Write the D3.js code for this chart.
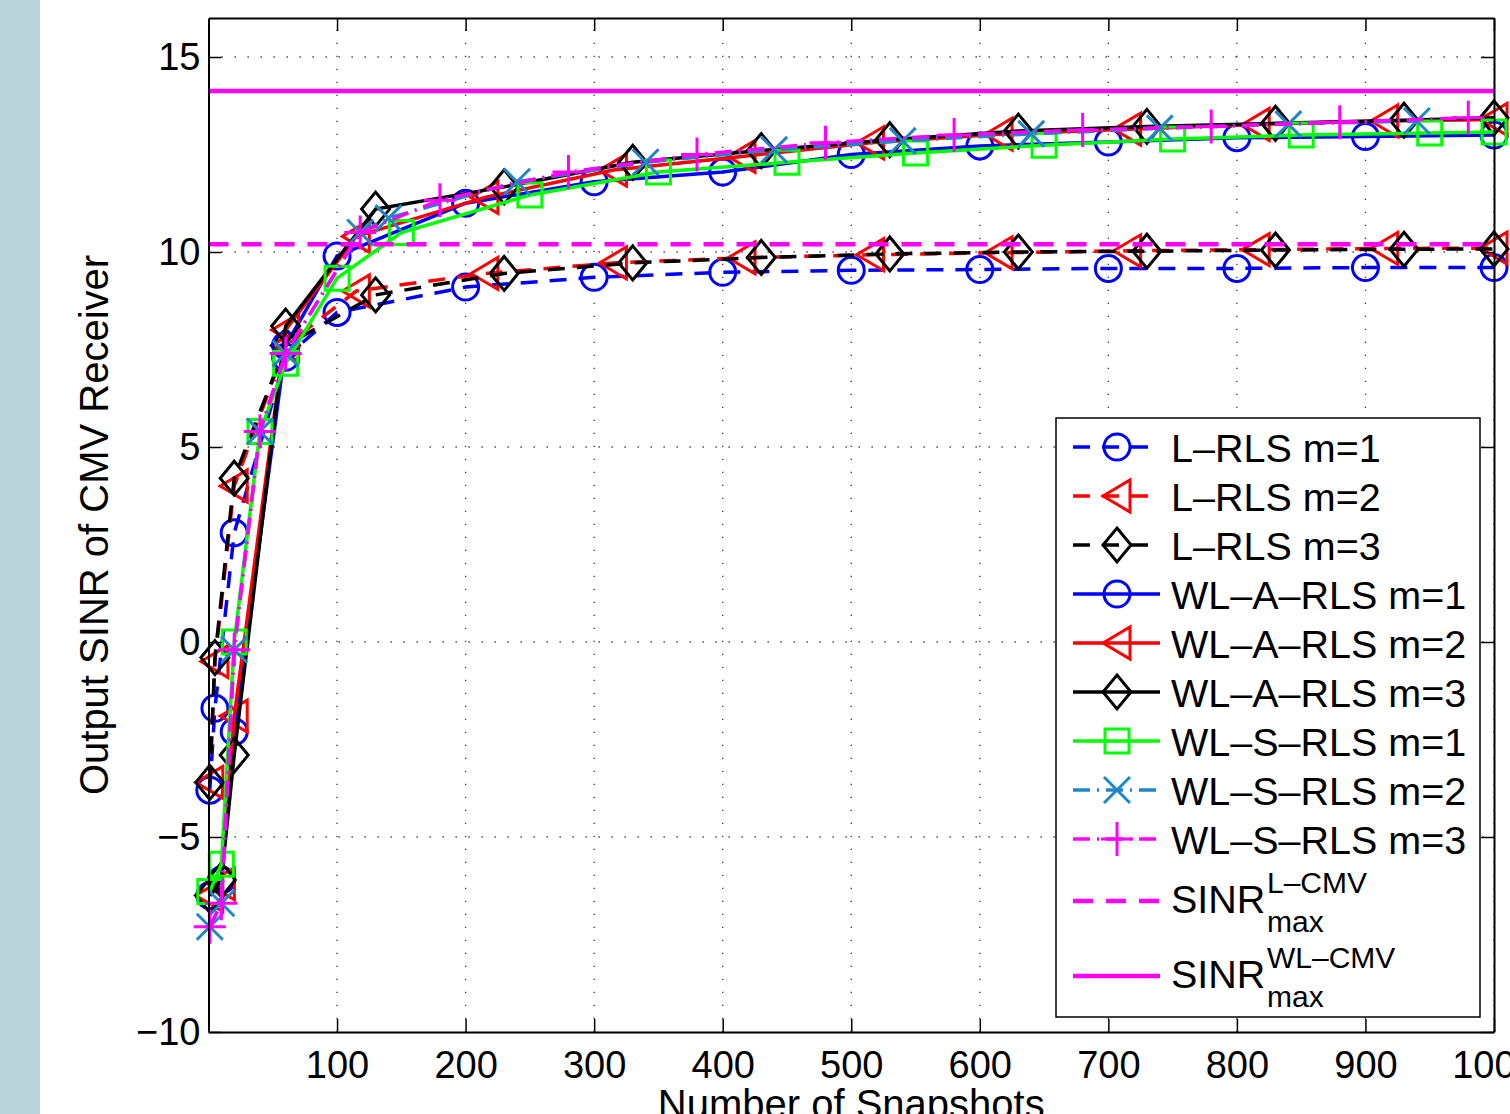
<!DOCTYPE html>
<html>
<head>
<meta charset="utf-8">
<script src="https://cdn.jsdelivr.net/npm/d3@7"></script>
<style>
  html, body { margin: 0; padding: 0; background: #fff; }
  svg { display: block; font-family: "Liberation Sans", Arial, Helvetica, sans-serif; }
</style>
</head>
<body>
<svg id="chart" width="1510" height="1114"></svg>
<script>
// Values (snapshots vs output SINR in dB)
const lrls1X = [1, 5, 20, 60, 100, 200, 300, 400, 500, 600, 700, 800, 900, 1000];
const lrls1Y = [-3.8, -1.7, 2.8, 7.3, 8.45, 9.1, 9.35, 9.48, 9.53, 9.55, 9.58, 9.58, 9.6, 9.6];

const lrls2X = [1, 5, 20, 60, 115, 215, 315, 415, 515, 615, 715, 815, 915, 1000];
const lrls2Y = [-3.6, -0.5, 4.0, 7.6, 9.0, 9.45, 9.72, 9.85, 9.93, 9.98, 10.03, 10.06, 10.09, 10.1];

const lrls3X = [1, 5, 20, 60, 130, 230, 330, 430, 530, 630, 730, 830, 930, 1000];
const lrls3Y = [-3.6, -0.4, 4.2, 7.6, 8.9, 9.45, 9.72, 9.86, 9.95, 10.0, 10.02, 10.05, 10.07, 10.08];

const wla1X = [1, 10, 20, 60, 100, 200, 300, 400, 500, 600, 700, 800, 900, 1000];
const wla1Y = [-6.5, -6.1, -2.3, 7.6, 9.9, 11.25, 11.8, 12.05, 12.5, 12.72, 12.82, 12.93, 12.96, 13.0];

const wla2X = [1, 10, 20, 60, 115, 215, 315, 415, 515, 615, 715, 815, 915, 1000];
const wla2Y = [-6.5, -6.2, -1.9, 8.0, 10.4, 11.4, 12.1, 12.45, 12.8, 13.02, 13.15, 13.27, 13.36, 13.4];

const wla3X = [1, 10, 20, 60, 130, 230, 330, 430, 530, 630, 730, 830, 930, 1000];
const wla3Y = [-6.5, -6.1, -2.9, 8.1, 11.1, 11.67, 12.3, 12.6, 12.88, 13.1, 13.22, 13.3, 13.38, 13.44];

const wls1X = [1, 10, 20, 40, 60, 100, 150, 250, 350, 450, 550, 650, 750, 850, 950, 1000];
const wls1Y = [-6.4, -5.7, 0.0, 5.4, 7.15, 9.33, 10.5, 11.46, 12.05, 12.3, 12.54, 12.74, 12.9, 13.0, 13.05, 13.08];

const wls2X = [1, 10, 20, 40, 60, 118, 140, 240, 340, 440, 540, 640, 740, 840, 940];
const wls2Y = [-7.3, -6.7, -0.2, 5.4, 7.4, 10.5, 10.87, 11.8, 12.3, 12.62, 12.85, 13.03, 13.17, 13.28, 13.36];

const wls3X = [1, 10, 20, 40, 60, 118, 180, 280, 380, 480, 580, 680, 780, 880, 980];
const wls3Y = [-7.3, -6.7, -0.2, 5.4, 7.4, 10.5, 11.33, 12.05, 12.5, 12.8, 13.0, 13.13, 13.22, 13.33, 13.44];

// Theoretical maxima (horizontal lines)
const sinrMaxL = 10.2;
const sinrMaxWL = 14.13;

const xTicks = [100, 200, 300, 400, 500, 600, 700, 800, 900, 1000];
const yTicks = [-10, -5, 0, 5, 10, 15];

const DASH = '17,12', DASHDOT = '17,7,2,7';

// Styles for each curve (legend order)
const series = [
  { label: 'L–RLS m=1', xs: lrls1X, ys: lrls1Y, color: '#0000ff', dash: DASH, marker: 'circle' },
  { label: 'L–RLS m=2', xs: lrls2X, ys: lrls2Y, color: '#ff0000', dash: DASH, marker: 'triangle' },
  { label: 'L–RLS m=3', xs: lrls3X, ys: lrls3Y, color: '#000000', dash: DASH, marker: 'diamond' },
  { label: 'WL–A–RLS m=1', xs: wla1X, ys: wla1Y, color: '#0000ff', dash: null, marker: 'circle' },
  { label: 'WL–A–RLS m=2', xs: wla2X, ys: wla2Y, color: '#ff0000', dash: null, marker: 'triangle' },
  { label: 'WL–A–RLS m=3', xs: wla3X, ys: wla3Y, color: '#000000', dash: null, marker: 'diamond' },
  { label: 'WL–S–RLS m=1', xs: wls1X, ys: wls1Y, color: '#00ff00', dash: null, marker: 'square' },
  { label: 'WL–S–RLS m=2', xs: wls2X, ys: wls2Y, color: '#1f86c8', dash: DASHDOT, marker: 'cross' },
  { label: 'WL–S–RLS m=3', xs: wls3X, ys: wls3Y, color: '#ff00ff', dash: DASHDOT, marker: 'plus' }
];

const svg = d3.select('#chart');
const fontSize = 38, labelSize = 40, legendSize = 39.5;

// light strip on the left edge of the picture
svg.append('rect').attr('x', 0).attr('y', 0).attr('width', 40).attr('height', 1114).attr('fill', '#b9d5d9');

const x = d3.scaleLinear().domain([0, 1000]).range([208.5, 1494]);
const y = d3.scaleLinear().domain([-10, 16]).range([1032, 18]);

// Dotted grid
const grid = svg.append('g').attr('stroke', '#333').attr('stroke-width', 1.3).attr('stroke-dasharray', '1.3,11.7');
xTicks.forEach(t => {
  grid.append('line').attr('x1', x(t)).attr('x2', x(t)).attr('y1', y(-10)).attr('y2', y(16));
});
yTicks.filter(t => t > -10).forEach(t => {
  grid.append('line').attr('x1', x(0)).attr('x2', x(1000)).attr('y1', y(t)).attr('y2', y(t));
});

// Marker shapes, MATLAB style
function markerPath(type) {
  switch (type) {
    case 'circle': return 'M13,0A13,13 0 1,1 -13,0A13,13 0 1,1 13,0Z';
    case 'triangle': return 'M-14,0L13,-16L13,16Z';
    case 'diamond': return 'M0,-17L14,0L0,17L-14,0Z';
    case 'square': return 'M-12,-12H12V12H-12Z';
    case 'cross': return 'M-13,-13L13,13M-13,13L13,-13';
    case 'plus': return 'M-16,0H16M0,-17V17';
  }
}

const line = d3.line().x(d => x(d[0])).y(d => y(d[1]));

// Curves with their markers
series.forEach(s => {
  const pts = s.xs.map((v, i) => [v, s.ys[i]]);
  const g = svg.append('g');
  g.append('path')
    .attr('d', line(pts))
    .attr('fill', 'none')
    .attr('stroke', s.color)
    .attr('stroke-width', 3.5)
    .attr('stroke-dasharray', s.dash);
  g.selectAll('path.mk')
    .data(pts)
    .enter()
    .append('path')
    .attr('class', 'mk')
    .attr('d', markerPath(s.marker))
    .attr('transform', d => `translate(${x(d[0])},${y(d[1])})`)
    .attr('fill', 'none')
    .attr('stroke', s.color)
    .attr('stroke-width', 3);
});

// Horizontal SINR max lines
svg.append('line')
  .attr('x1', x(0)).attr('x2', x(1000)).attr('y1', y(sinrMaxL)).attr('y2', y(sinrMaxL))
  .attr('stroke', '#ff00ff').attr('stroke-width', 4.5).attr('stroke-dasharray', '20,13');
svg.append('line')
  .attr('x1', x(0)).attr('x2', x(1000)).attr('y1', y(sinrMaxWL)).attr('y2', y(sinrMaxWL))
  .attr('stroke', '#ff00ff').attr('stroke-width', 4.5);

// Axes, ticks pointing inward on all four sides
function styleAxis(g) {
  g.selectAll('path.domain').attr('stroke', '#000').attr('stroke-width', 2);
  g.selectAll('.tick line').attr('stroke', '#000').attr('stroke-width', 1.5);
  g.selectAll('text').attr('fill', '#000').style('font-size', fontSize + 'px')
    .style('font-family', '"Liberation Sans", Arial, sans-serif');
}

svg.append('g')
  .attr('transform', `translate(0,${y(-10)})`)
  .call(d3.axisBottom(x).tickValues(xTicks).tickFormat(d3.format('d')).tickSize(-13).tickSizeOuter(0).tickPadding(19))
  .call(styleAxis);
svg.append('g')
  .attr('transform', `translate(0,${y(16)})`)
  .call(d3.axisTop(x).tickValues(xTicks).tickSize(-13).tickSizeOuter(0).tickFormat(''))
  .call(styleAxis);
svg.append('g')
  .attr('transform', `translate(${x(0)},0)`)
  .call(d3.axisLeft(y).tickValues(yTicks).tickSize(-13).tickSizeOuter(0).tickPadding(8))
  .call(styleAxis);
svg.append('g')
  .attr('transform', `translate(${x(1000)},0)`)
  .call(d3.axisRight(y).tickValues(yTicks).tickSize(-13).tickSizeOuter(0).tickFormat(''))
  .call(styleAxis);

// Axis titles
svg.append('text')
  .attr('transform', `translate(108,${(y(-10) + y(16)) / 2}) rotate(-90)`)
  .attr('text-anchor', 'middle')
  .style('font-size', labelSize + 'px')
  .text('Output SINR of CMV Receiver');
svg.append('text')
  .attr('x', (x(0) + x(1000)) / 2)
  .attr('y', 1118)
  .attr('text-anchor', 'middle')
  .style('font-size', labelSize + 'px')
  .text('Number of Snapshots');

// Legend
const lg = svg.append('g');
lg.append('rect')
  .attr('x', 1056).attr('y', 418).attr('width', 424).attr('height', 599)
  .attr('fill', '#fff').attr('stroke', '#000').attr('stroke-width', 1.5);

series.forEach((s, i) => {
  const ry = 447 + i * 49;
  lg.append('line')
    .attr('x1', 1073).attr('x2', 1160).attr('y1', ry).attr('y2', ry)
    .attr('stroke', s.color).attr('stroke-width', 3.5)
    .attr('stroke-dasharray', s.dash);
  lg.append('path')
    .attr('d', markerPath(s.marker))
    .attr('transform', `translate(1117,${ry})`)
    .attr('fill', 'none').attr('stroke', s.color).attr('stroke-width', 3);
  lg.append('text')
    .attr('x', 1171).attr('y', ry + 15)
    .style('font-size', legendSize + 'px')
    .text(s.label);
});

// SINR_max entries with super/subscripts
const maxEntries = [
  { sup: 'L–CMV', dash: '20,13', ry: 901 },
  { sup: 'WL–CMV', dash: null, ry: 976 }
];
maxEntries.forEach(e => {
  lg.append('line')
    .attr('x1', 1073).attr('x2', 1160).attr('y1', e.ry).attr('y2', e.ry)
    .attr('stroke', '#ff00ff').attr('stroke-width', 4.5)
    .attr('stroke-dasharray', e.dash);
  lg.append('text').attr('x', 1171).attr('y', e.ry + 12)
    .style('font-size', legendSize + 'px').text('SINR');
  lg.append('text').attr('x', 1267).attr('y', e.ry - 8)
    .style('font-size', '30px').text(e.sup);
  lg.append('text').attr('x', 1267).attr('y', e.ry + 31)
    .style('font-size', '30px').text('max');
});
</script>
</body>
</html>
